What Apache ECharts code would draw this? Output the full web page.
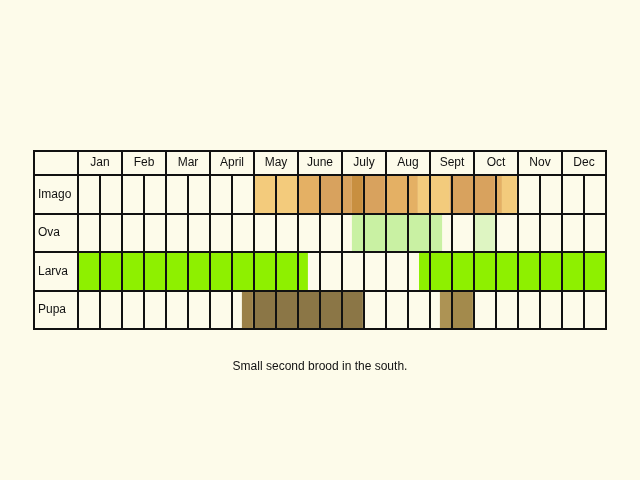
<!DOCTYPE html>
<html><head><meta charset="utf-8">
<script src="https://cdn.jsdelivr.net/npm/echarts@6/dist/echarts.min.js"></script>
<style>html,body{margin:0;background:#fdfbea}#c{width:640px;height:480px}</style>
</head><body><div id="c"></div>
<script>
// header columns: blank label column + months
const months = ['', 'Jan', 'Feb', 'Mar', 'April', 'May', 'June', 'July', 'Aug', 'Sept', 'Oct', 'Nov', 'Dec'];
const stages = ['Imago', 'Ova', 'Larva', 'Pupa'];
// segments in half-month units: [start, end, shade]
const imago = [[8, 10, 0], [10, 11, 1], [11, 12.45, 2], [12.45, 12.95, 3], [12.95, 13.95, 2], [13.95, 15.45, 1], [15.45, 16.9, 0], [16.9, 18.95, 2], [18.95, 19.27, 1], [19.27, 19.95, 0]];
const ova = [[12.45, 16.55, 4], [17.95, 18.95, 5]];
const larva = [[0, 10.45, 6], [15.5, 24, 6]];
const pupa = [[7.45, 7.95, 7], [7.95, 12.95, 8], [16.45, 17, 9], [17, 17.95, 10]];
const note = 'Small second brood in the south.';

const shades = ['#f3cb7c', '#e4b064', '#d8a25e', '#c88f40', '#c9f1a3', '#def5c2', '#8ef000', '#9a8048', '#8b7646', '#ad9354', '#a38a4c'];

const rows = [imago, ova, larva, pupa];
const segs = [];
rows.forEach((r, i) => r.forEach(s => segs.push([s[0], s[1], i, s[2]])));

const lineCols = [];
for (let i = 0; i <= 26; i++) lineCols.push(i === 1 ? 'transparent' : '#111');

const chart = echarts.init(document.getElementById('c'));
chart.setOption({
  backgroundColor: '#fdfbea',
  textStyle: { fontFamily: 'Liberation Sans', fontSize: 12, color: '#111' },
  grid: [
    { left: 34, top: 151, width: 572, height: 24, show: true, borderColor: '#111', borderWidth: 2, z: 5 },
    { left: 34, top: 175, width: 572, height: 154, show: true, borderColor: '#111', borderWidth: 2, z: 5 }
  ],
  xAxis: [
    { gridIndex: 0, type: 'category', data: months, z: 5,
      axisLine: { show: false }, axisTick: { show: false },
      axisLabel: { inside: true, margin: 12, verticalAlign: 'middle', color: '#111', fontSize: 12 },
      splitLine: { show: true, lineStyle: { color: '#111', width: 2 } } },
    { gridIndex: 1, type: 'value', min: -2, max: 24, interval: 1, z: 5,
      axisLine: { show: false }, axisTick: { show: false }, axisLabel: { show: false },
      splitLine: { show: true, lineStyle: { color: lineCols, width: 2 } } }
  ],
  yAxis: [
    { gridIndex: 0, type: 'value', show: false },
    { gridIndex: 1, type: 'category', data: stages, inverse: true, z: 5,
      axisLine: { show: false }, axisTick: { show: false },
      axisLabel: { margin: -4, align: 'left', color: '#111', fontSize: 12 },
      splitLine: { show: true, lineStyle: { color: '#111', width: 2 } } }
  ],
  series: [{
    type: 'custom', xAxisIndex: 1, yAxisIndex: 1, z: 1, data: segs,
    renderItem: (params, api) => {
      const a = api.coord([api.value(0), api.value(2)]);
      const b = api.coord([api.value(1), api.value(2)]);
      const h = api.size([0, 1])[1];
      return { type: 'rect', shape: { x: a[0], y: a[1] - h / 2, width: b[0] - a[0], height: h },
        style: { fill: shades[api.value(3)] } };
    }
  }],
  graphic: [{ type: 'text', left: 'center', top: 361,
    style: { text: note, fontFamily: 'Liberation Sans', fontSize: 12, fill: '#111' } }]
});
</script></body></html>
